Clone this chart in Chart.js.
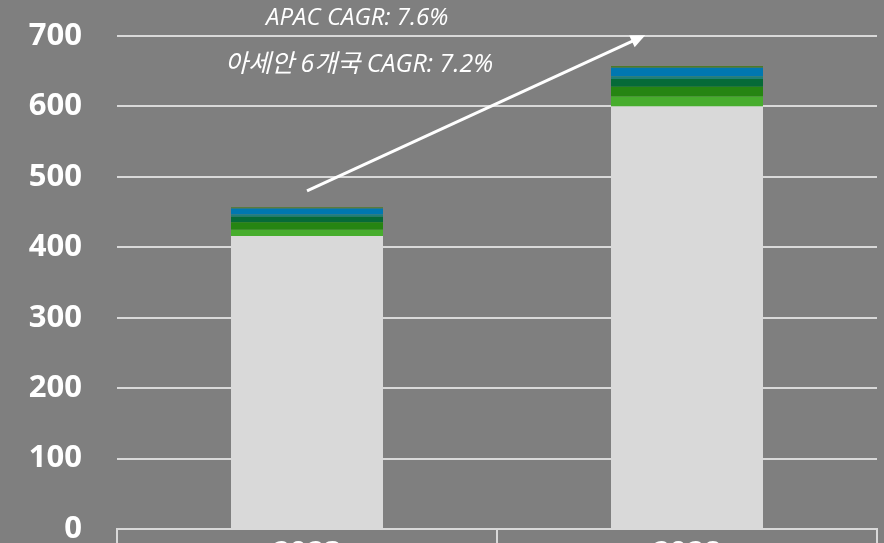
<!DOCTYPE html>
<html>
<head>
<meta charset="utf-8">
<title>APAC CAGR</title>
<script src="https://cdn.jsdelivr.net/npm/chart.js"></script>
<style>
  html, body { margin: 0; padding: 0; background: #7f7f7f; overflow: hidden; }
  #wrap { width: 884px; height: 600px; }
</style>
</head>
<body>
<div id="wrap"><canvas id="chart"></canvas></div>
<script>
// categories and tick values
const years = ['2023', '2028'];
const yTicks = [0, 100, 200, 300, 400, 500, 600, 700];

// series values (bottom to top of each stack)
const restApac = [416, 600];
const indonesia = [9, 14];
const thailand = [10.5, 14];
const vietnam = [8, 11];
const philippines = [3, 4];
const malaysia = [8.5, 12];
const singapore = [2, 2.4];

// annotation text
const apacNote = 'APAC CAGR: 7.6%';
const aseanNote = '아세안 6개국 CAGR: 7.2%';

const gridColor = '#d9d9d9';

// arrow + CAGR notes, positioned through the scales
const notesPlugin = {
  id: 'notes',
  afterDatasetsDraw(chart) {
    const { ctx, scales: { x, y } } = chart;
    const x0 = x.getPixelForValue(0), y0 = y.getPixelForValue(480);
    const x1 = x.getPixelForValue(0.89), y1 = y.getPixelForValue(701);
    const ang = Math.atan2(y1 - y0, x1 - x0);
    const head = 16;
    ctx.save();
    ctx.strokeStyle = '#ffffff';
    ctx.fillStyle = '#ffffff';
    ctx.lineWidth = 3;
    ctx.beginPath();
    ctx.moveTo(x0, y0);
    ctx.lineTo(x1 - Math.cos(ang) * head * 0.8, y1 - Math.sin(ang) * head * 0.8);
    ctx.stroke();
    ctx.beginPath();
    ctx.moveTo(x1, y1);
    ctx.lineTo(x1 - head * Math.cos(ang - 0.42), y1 - head * Math.sin(ang - 0.42));
    ctx.lineTo(x1 - head * Math.cos(ang + 0.42), y1 - head * Math.sin(ang + 0.42));
    ctx.closePath();
    ctx.fill();

    ctx.textAlign = 'center';
    ctx.textBaseline = 'alphabetic';
    ctx.font = 'italic 24px "Open Sans", "Noto Sans CJK KR"';
    ctx.fillText(apacNote, x.getPixelForValue(0.132), y.getPixelForValue(716));
    ctx.font = 'italic 25px "Open Sans", "Noto Sans CJK KR"';
    ctx.fillText(aseanNote, x.getPixelForValue(0.137), y.getPixelForValue(649));
    ctx.restore();
  }
};

const stack = (label, data, color) => ({
  label, data, backgroundColor: color, borderWidth: 0, stack: 's'
});

new Chart(document.getElementById('chart'), {
  type: 'bar',
  data: {
    labels: years,
    datasets: [
      stack('기타 APAC', restApac, '#d9d9d9'),
      stack('인도네시아', indonesia, '#47ad2d'),
      stack('태국', thailand, '#268512'),
      stack('베트남', vietnam, '#066a38'),
      stack('필리핀', philippines, '#1d7f78'),
      stack('말레이시아', malaysia, '#0077b0'),
      stack('싱가포르', singapore, '#4e7a27')
    ]
  },
  options: {
    responsive: true,
    maintainAspectRatio: false,
    animation: false,
    layout: { padding: { top: 36, right: 7, left: 0, bottom: 0 } },
    plugins: { legend: { display: false }, tooltip: { enabled: false } },
    datasets: { bar: { categoryPercentage: 1, barPercentage: 0.4 } },
    scales: {
      x: {
        stacked: true,
        afterFit: (s) => { s.height = 71; s.paddingLeft = 0; s.paddingRight = 0; },
        border: { display: true, color: gridColor, width: 2 },
        grid: { offset: true, drawOnChartArea: false, color: gridColor, lineWidth: 2, tickLength: 14 },
        ticks: { color: '#ffffff', padding: -7, font: { family: '"Open Sans"', size: 30, weight: 'bold' } }
      },
      y: {
        stacked: true,
        min: 0,
        max: 700,
        afterFit: (s) => { s.width = 117; s.paddingTop = 0; s.paddingBottom = 0; },
        afterBuildTicks: (s) => { s.ticks = yTicks.map(v => ({ value: v })); },
        border: { display: false },
        grid: { color: gridColor, lineWidth: 2, drawTicks: false },
        ticks: { color: '#ffffff', padding: 35, font: { family: '"Open Sans"', size: 31, weight: 'bold' } }
      }
    }
  },
  plugins: [notesPlugin]
});
</script>
</body>
</html>
